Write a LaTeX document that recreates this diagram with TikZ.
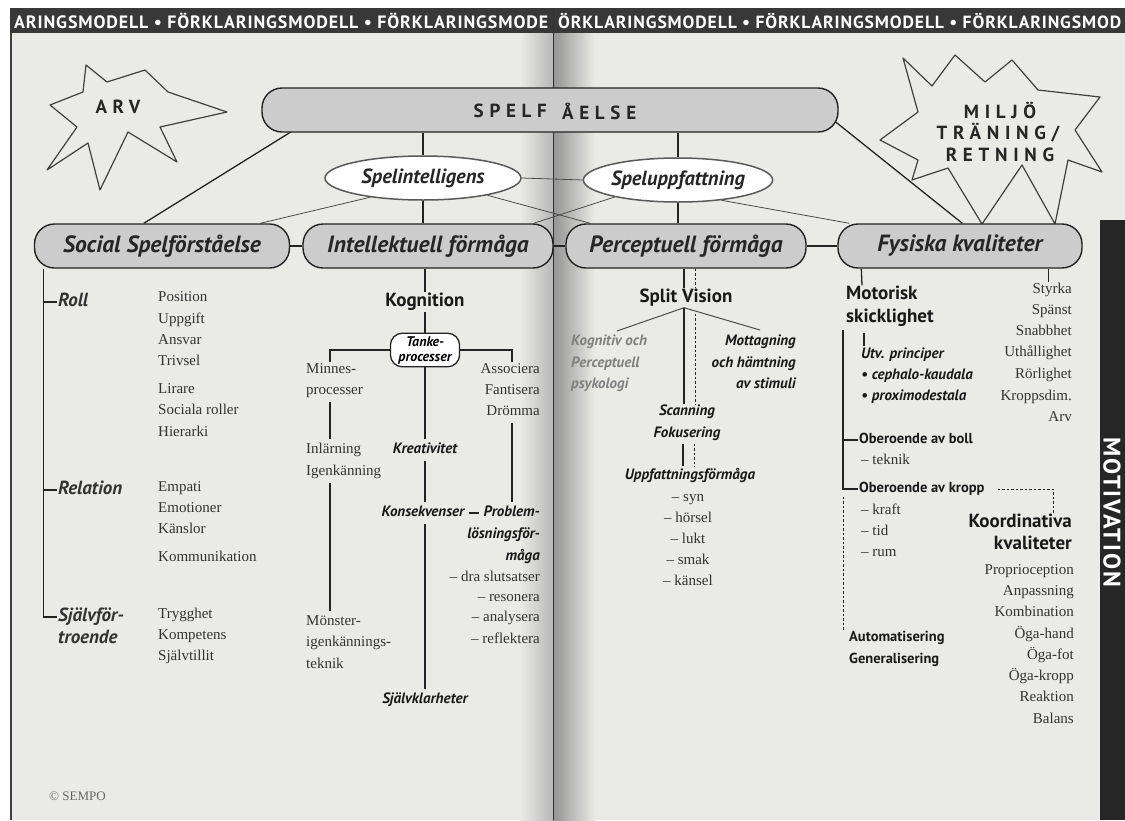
\documentclass[tikz,border=0pt]{standalone}
\usepackage{fontspec}
\setmainfont{Liberation Serif}
\setsansfont{PT Sans}
\usetikzlibrary{shapes.geometric}
\pgfdeclarelayer{bg}
\pgfdeclarelayer{lines}
\pgfsetlayers{bg,lines,main}
\definecolor{page}{RGB}{234,234,230}
\definecolor{ink}{RGB}{35,35,35}
\tikzset{
 pill/.style={draw=ink, line width=1.4pt, rounded corners=20pt, fill=black!20, minimum height=44pt, inner sep=0pt, font=\sffamily\bfseries\itshape\fontsize{23.5}{26}\selectfont, text=black!85},
 oval/.style={ellipse, draw=black!65, line width=1.5pt, fill=white, minimum height=44pt, inner sep=0pt, font=\sffamily\bfseries\itshape\fontsize{20.5}{24}\selectfont, text=black!85},
 conn/.style={draw=ink, line width=1.3pt},
 link/.style={draw=black!70, line width=0.8pt},
 dline/.style={draw=ink, line width=1pt, dash pattern=on 2.5pt off 2pt},
 ser/.style={font=\rmfamily\fontsize{15}{18}\selectfont, text=black!80, inner sep=1pt, text height=10pt, text depth=3pt},
 sb/.style={font=\sffamily\bfseries\itshape\fontsize{15}{17}\selectfont, text=black!90, inner sep=1pt, text height=10pt, text depth=3pt},
 sbu/.style={font=\sffamily\bfseries\fontsize{14.5}{17}\selectfont, text=black!90, inner sep=1pt, text height=10pt, text depth=3pt},
 mid/.style={font=\sffamily\bfseries\itshape\fontsize{19}{21}\selectfont, text=black!80, inner sep=1pt, text height=13pt, text depth=4pt},
 hd/.style={font=\sffamily\bfseries\fontsize{19}{22}\selectfont, text=black!90, inner sep=1pt, text height=13pt, text depth=4pt},
 capx/.style={font=\sffamily\bfseries\fontsize{19}{22}\selectfont\addfontfeature{LetterSpace=30}, text=black!85, inner sep=0pt},
 banner/.style={font=\sffamily\bfseries\fontsize{18}{20}\selectfont\addfontfeature{LetterSpace=5}, text=white, inner sep=0pt},
 star/.style={draw=black!75, line width=1.2pt, line join=round},
}
\begin{document}
\begin{tikzpicture}[x=1pt,y=-1pt]
\clip (0,0) rectangle (1125,820);
\begin{pgfonlayer}{bg}
\fill[white] (0,0) rectangle (1125,820);
\fill[page] (10,8) rectangle (1125,820);
\shade[left color=page, right color=black!28] (520,8) rectangle (553,820);
\shade[left color=black!42, right color=page] (553,8) rectangle (595,820);
\draw[black!75, line width=2.5pt] (11,8) -- (11,820);
\fill[black!78] (10,8) rectangle (1125,33);
\draw[black!80, line width=1pt] (553,8) -- (553,820);
\fill[black!85] (1100,220) rectangle (1125,820);
\end{pgfonlayer}

% banner
\node[banner, anchor=west] (bl) at (14,21) {\resizebox{534pt}{!}{ARINGSMODELL • FÖRKLARINGSMODELL • FÖRKLARINGSMODE}};
\node[banner, anchor=west] (br) at (558,21) {\resizebox{563pt}{!}{ÖRKLARINGSMODELL • FÖRKLARINGSMODELL • FÖRKLARINGSMOD}};
\node[font=\sffamily\bfseries\fontsize{24}{26}\selectfont\addfontfeature{LetterSpace=8}, text=white, rotate=-90, inner sep=0pt] (motiv) at (1112,512) {MOTIVATION};

% stars
\draw[star] (50,105) -- (83,92) -- (86,65) -- (107,82) -- (145,70) -- (168,92) -- (227,112) -- (160,127) -- (177,162) -- (128,132) -- (100,190) -- (88,143) -- (47,170) -- (77,127) -- cycle;
\node[capx] (arv) at (118,107) {ARV};
\draw[star] (880,140) -- (918,112) -- (903,58) -- (932,86) -- (955,55) -- (985,82) -- (1012,60) -- (1038,90) -- (1100,97) -- (1075,130) -- (1102,172) -- (1068,160) -- (1055,224) -- (1022,165) -- (982,224) -- (948,168) -- (912,180) -- (918,160) -- cycle;
\node[capx] (milj) at (1000,110) {MILJÖ};
\node[capx] (tran) at (998,133) {TRÄNING/};
\node[capx] (retn) at (1000,155) {RETNING};

% main boxes
\node[pill, minimum width=576pt] (spelf) at (550,110) {};
\node[capx, anchor=east] (spelfa) at (547,111) {SPELF};
\node[capx, anchor=west] (spelfb) at (562,111) {ÅELSE};
\node[oval, minimum width=196pt] (si) at (423,178) {Spelintelligens};
\node[oval, minimum width=188pt] (su) at (678,180) {Speluppfattning};
\node[pill, minimum width=255pt] (social) at (162,246) {Social Spelförståelse};
\node[pill, minimum width=250pt] (intel) at (428,246) {Intellektuell förmåga};
\node[pill, minimum width=240pt] (percep) at (686,246) {Perceptuell förmåga};
\node[pill, minimum width=244pt] (fysisk) at (960,246) {Fysiska kvaliteter};

% left column
\node[mid, anchor=west] (roll) at (57,302) {Roll};
\foreach \t/\yy [count=\i] in {Position/298,Uppgift/320,Ansvar/341,Trivsel/362,Lirare/390,Sociala roller/411,Hierarki/433}
  \node[ser, anchor=west] (r\i) at (157,\yy) {\t};
\node[mid, anchor=west] (rel) at (57,490) {Relation};
\foreach \t/\yy [count=\i] in {Empati/488,Emotioner/509,Känslor/530,Kommunikation/558}
  \node[ser, anchor=west] (e\i) at (157,\yy) {\t};
\node[mid, anchor=west] (sj1) at (57,617) {Självför-};
\node[mid, anchor=west] (sj2) at (57,639) {troende};
\foreach \t/\yy [count=\i] in {Trygghet/615,Kompetens/636,Självtillit/657}
  \node[ser, anchor=west] (t\i) at (157,\yy) {\t};

% middle column
\node[hd] (kog) at (425,302) {Kognition};
\node[draw=ink, line width=1.3pt, fill=white, rounded corners=12pt, align=center, font=\sffamily\bfseries\itshape\fontsize{14}{15}\selectfont, inner xsep=8pt, inner ysep=3pt] (tank) at (425,350) {Tanke-\\processer};
\node[ser, anchor=west] (mi1) at (305,370) {Minnes-};
\node[ser, anchor=west] (mi2) at (305,391) {processer};
\node[ser, anchor=west] (in1) at (305,450) {Inlärning};
\node[ser, anchor=west] (in2) at (305,472) {Igenkänning};
\node[ser, anchor=west] (mo1) at (305,622) {Mönster-};
\node[ser, anchor=west] (mo2) at (305,643) {igenkännings-};
\node[ser, anchor=west] (mo3) at (305,665) {teknik};
\node[ser, anchor=east] (as1) at (541,370) {Associera};
\node[ser, anchor=east] (as2) at (541,391) {Fantisera};
\node[ser, anchor=east] (as3) at (541,412) {Drömma};
\node[sb] (krea) at (425,450) {Kreativitet};
\node[sb] (kons) at (423,513) {Konsekvenser};
\node[sb, anchor=east] (pr1) at (541,513) {Problem-};
\node[sb, anchor=east] (pr2) at (541,535) {lösningsför-};
\node[sb, anchor=east] (pr3) at (541,557) {måga};
\foreach \t/\yy [count=\i] in {– dra slutsatser/578,– resonera/598,– analysera/618,– reflektera/640}
  \node[ser, anchor=east] (d\i) at (541,\yy) {\t};
\node[sb] (sjk) at (425,700) {Självklarheter};

% perceptual column
\node[hd] (sv) at (686,298) {Split Vision};
\node[sb, anchor=west, text=black!50] (kp1) at (570,342) {Kognitiv och};
\node[sb, anchor=west, text=black!50] (kp2) at (570,364) {Perceptuell};
\node[sb, anchor=west, text=black!50] (kp3) at (570,385) {psykologi};
\node[sb, anchor=east] (mt1) at (797,342) {Mottagning};
\node[sb, anchor=east] (mt2) at (797,364) {och hämtning};
\node[sb, anchor=east] (mt3) at (797,385) {av stimuli};
\node[sb] (scan) at (687,412) {Scanning};
\node[sb] (fok) at (687,434) {Fokusering};
\node[sb] (upp) at (690,476) {Uppfattningsförmåga};
\foreach \t/\yy [count=\i] in {– syn/498,– hörsel/519,– lukt/540,– smak/561,– känsel/582}
  \node[ser] (s\i) at (688,\yy) {\t};
\coordinate (svl) at (617,331);
\coordinate (svr) at (760,330);

% physical column
\node[hd, anchor=west] (mot1) at (845,295) {Motorisk};
\node[hd, anchor=west] (mot2) at (845,318) {skicklighet};
\foreach \t/\yy [count=\i] in {Styrka/290,Spänst/311,Snabbhet/332,Uthållighet/353,Rörlighet/375,Kroppsdim./397,Arv/418}
  \node[ser, anchor=east] (f\i) at (1073,\yy) {\t};
\node[sb, anchor=west] (utv) at (860,355) {Utv. principer};
\node[sb, anchor=west] (b1) at (860,376) {• cephalo-kaudala};
\node[sb, anchor=west] (b2) at (860,397) {• proximodestala};
\node[sbu, anchor=west] (obb) at (858,440) {Oberoende av boll};
\node[ser, anchor=west] (tek) at (860,461) {– teknik};
\node[sbu, anchor=west] (obk) at (858,489) {Oberoende av kropp};
\foreach \t/\yy [count=\i] in {– kraft/511,– tid/532,– rum/553}
  \node[ser, anchor=west] (k\i) at (860,\yy) {\t};
\node[hd, anchor=east] (koo1) at (1073,523) {Koordinativa};
\node[hd, anchor=east] (koo2) at (1073,545) {kvaliteter};
\foreach \t/\yy [count=\i] in {Proprioception/571,Anpassning/592,Kombination/613,Öga-hand/635,Öga-fot/656,Öga-kropp/677,Reaktion/698,Balans/720}
  \node[ser, anchor=east] (q\i) at (1075,\yy) {\t};
\node[sbu, anchor=west] (aut) at (848,638) {Automatisering};
\node[sbu, anchor=west] (gen) at (848,660) {Generalisering};
\coordinate (mv) at (843,330);

\node[ser, anchor=west, font=\rmfamily\fontsize{13}{15}\selectfont, text=black!60] (sempo) at (48,797) {© SEMPO};

\begin{pgfonlayer}{lines}
% top level
\draw[conn] (si.north |- spelf.south) -- (si.north);
\draw[conn] (si.south) -- (si.south |- intel.north);
\draw[conn] (su.north |- spelf.south) -- (su.north);
\draw[conn] (su.south) -- (su.south |- percep.north);
\draw[conn] ([xshift=38pt,yshift=6pt]spelf.south west) -- ([xshift=110pt]social.north west);
\draw[conn] ([xshift=-18pt]spelf.east) -- ([xshift=125pt]fysisk.north west);
\draw[conn] (social.east) -- (intel.west);
\draw[conn] (intel.east) -- (percep.west);
\draw[conn] (percep.east) -- (fysisk.west);
\draw[link] (si.200) -- ([xshift=-30pt]social.north east);
\draw[link] (si.east) -- (su.west);
\draw[link] (si.-15) -- ([xshift=25pt]percep.north west);
\draw[link] (su.195) -- ([xshift=-20pt]intel.north east);
\draw[link] (su.-25) -- ([xshift=12pt]fysisk.north west);
% left column
\coordinate (lv) at ([xshift=10pt]social.south west);
\draw[conn] (lv) |- (sj1.west);
\draw[conn] (lv |- roll.west) -- (roll.west);
\draw[conn] (lv |- rel.west) -- (rel.west);
% middle column
\draw[conn] (intel.south -| kog) -- (kog.north);
\draw[conn] (kog.south) -- (tank.north);
\draw[conn] (tank.west) -| ([xshift=25pt]mi1.north west);
\draw[conn] ([xshift=25pt,yshift=-3pt]mi2.south west) -- ([xshift=25pt,yshift=3pt]in1.north west);
\draw[conn] ([xshift=25pt,yshift=-3pt]in2.south west) -- ([xshift=25pt,yshift=3pt]mo1.north west);
\draw[conn] (tank.east) -| ([xshift=-29pt]as1.north east);
\draw[conn] ([xshift=-29pt,yshift=-3pt]as3.south east) -- ([xshift=-29pt,yshift=3pt]pr1.north east);
\draw[conn, shorten >=3pt] (tank.south) -- (krea.north);
\draw[conn, shorten <=3pt, shorten >=3pt] (krea.south) -- (krea.south |- kons.north);
\draw[conn, shorten <=3pt, shorten >=3pt] (kons.east) -- (pr1.west);
\draw[conn, shorten <=3pt, shorten >=3pt] (kons.south -| krea) -- (sjk.north);
% perceptual column
\draw[conn] ([xshift=-2pt]percep.south) -- ([xshift=-2pt]sv.north);
\draw[dline] ([xshift=9pt]percep.south) -- ([xshift=9pt]sv.north);
\draw[link, line width=1pt] (svl) -- ([xshift=-2pt]sv.south) -- (svr);
\draw[conn] ([xshift=-2pt]sv.south) -- ([xshift=-2pt]sv.south |- scan.north);
\draw[dline] ([xshift=9pt,yshift=-6pt]sv.south) -- ([xshift=9pt]sv.south |- scan.north);
\draw[conn, shorten <=2pt, shorten >=2pt] ([xshift=-4pt]fok.south) -- ([xshift=-4pt]fok.south |- upp.north);
\draw[dline, shorten <=2pt, shorten >=2pt] ([xshift=7pt]fok.south) -- ([xshift=7pt]fok.south |- upp.north);
% physical column
\draw[conn] ([xshift=24pt]fysisk.south west) -- ([xshift=17pt]mot1.north west);
\draw[conn] ([xshift=-34pt]fysisk.south east) -- ([xshift=-34pt]fysisk.south east |- f1.north);
\draw[conn] ([xshift=4pt,yshift=1pt]utv.north west) -- ([xshift=4pt,yshift=14pt]utv.north west);
\draw[conn] (mv) |- (obk.west);
\draw[conn] (mv |- obb.west) -- (obb.west);
\draw[dline] ([xshift=12pt]obk.east) -| ([xshift=-20pt]koo1.north east);
\draw[dline] (mv |- obk.south) -- (mv |- aut.north);
\end{pgfonlayer}
\end{tikzpicture}
\end{document}
